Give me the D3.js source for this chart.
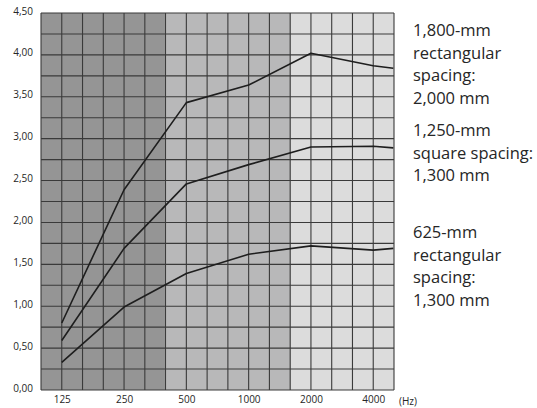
<!DOCTYPE html>
<html>
<head>
<meta charset="utf-8">
<script src="https://cdn.jsdelivr.net/npm/d3@7"></script>
<style>
  body { margin: 0; background: #fff; }
  text { font-family: "Open Sans", "Noto Sans", sans-serif; fill: #262626; }
</style>
</head>
<body>
<div class="chart"></div>
<script>
(function () {
  'use strict';

  var freqs = [125, 250, 500, 1000, 2000, 4000, 5000];
  var tickFreqs = [125, 250, 500, 1000, 2000, 4000];
  var yTicks = [0, 0.5, 1, 1.5, 2, 2.5, 3, 3.5, 4, 4.5];

  var rect1800 = [0.80, 2.39, 3.43, 3.64, 4.02, 3.87, 3.84];
  var square1250 = [0.59, 1.69, 2.46, 2.69, 2.90, 2.91, 2.89];
  var rect625 = [0.33, 0.99, 1.39, 1.62, 1.72, 1.67, 1.69];

  var labels = [
    { lines: ['1,800-mm', 'rectangular', 'spacing:', '2,000 mm'], y: 36 },
    { lines: ['1,250-mm', 'square spacing:', '1,300 mm'], y: 136 },
    { lines: ['625-mm', 'rectangular', 'spacing:', '1,300 mm'], y: 238 }
  ];

  // background bands (Hz edges) and their greys
  var bands = [
    { from: 99.2, to: 400, fill: '#959595' },
    { from: 400, to: 1600, fill: '#b8b8b9' },
    { from: 1600, to: 5040, fill: '#dcdcdc' }
  ];

  var margin = { top: 13, right: 143, bottom: 18, left: 41 };
  var width = 537 - margin.left - margin.right;
  var height = 408 - margin.top - margin.bottom;

  var fMin = 125 / Math.pow(2, 1 / 3);
  var fMax = 4000 * Math.pow(2, 1 / 3);

  var x = d3.scaleLog().base(2).domain([fMin, fMax]).range([0, width]);
  var y = d3.scaleLinear().domain([0, 4.5]).range([height, 0]);

  var comma = d3.formatLocale({ decimal: ',', thousands: '.', grouping: [3], currency: ['', ''] });

  var svg = d3.select('.chart')
      .append('svg')
      .attr('width', 537)
      .attr('height', 408);

  var g = svg.append('g')
      .attr('transform', 'translate(' + margin.left + ',' + margin.top + ')');

  g.selectAll('.band')
     .data(bands)
     .enter()
     .append('rect')
     .attr('x', function(d) { return Math.max(0, x(d.from)); })
     .attr('width', function(d) { return Math.min(width, x(d.to)) - Math.max(0, x(d.from)); })
     .attr('y', 0)
     .attr('height', height)
     .attr('fill', function(d) { return d.fill; });

  // third-octave grid columns, 0.25 rows
  var cols = d3.range(0, 18).map(function(i) { return fMin * Math.pow(2, i / 3); });
  var rows = d3.range(0, 19).map(function(i) { return i * 0.25; });

  g.selectAll('.vgrid')
     .data(cols)
     .enter()
     .append('line')
     .attr('x1', function(d) { return x(d); })
     .attr('x2', function(d) { return x(d); })
     .attr('y1', 0)
     .attr('y2', height)
     .attr('stroke', '#3a3a3a')
     .attr('stroke-width', 1.1);

  g.selectAll('.hgrid')
     .data(rows)
     .enter()
     .append('line')
     .attr('x1', 0)
     .attr('x2', width)
     .attr('y1', function(d) { return y(d); })
     .attr('y2', function(d) { return y(d); })
     .attr('stroke', '#3a3a3a')
     .attr('stroke-width', 1.1);

  var line = d3.line()
      .x(function(d, i) { return x(freqs[i]); })
      .y(function(d) { return y(d); });

  g.selectAll('.curve')
     .data([rect1800, square1250, rect625])
     .enter()
     .append('path')
     .attr('d', line)
     .attr('fill', 'none')
     .attr('stroke', '#1e1e1e')
     .attr('stroke-width', 1.6)
     .attr('stroke-linejoin', 'round');

  var yAxis = g.append('g')
     .call(d3.axisLeft(y).tickValues(yTicks).tickSize(0).tickPadding(8)
       .tickFormat(comma.format('.2f')));
  yAxis.select('.domain').remove();
  yAxis.selectAll('text')
     .attr('font-size', '10px')
     .attr('font-family', '"Open Sans", sans-serif')
     .attr('fill', '#262626')
     .attr('dy', '0.1em');

  var xAxis = g.append('g')
     .attr('transform', 'translate(0,' + height + ')')
     .call(d3.axisBottom(x).tickValues(tickFreqs).tickSize(0).tickPadding(6)
       .tickFormat(d3.format('d')));
  xAxis.select('.domain').remove();
  xAxis.selectAll('text')
     .attr('font-size', '10px')
     .attr('font-family', '"Open Sans", sans-serif')
     .attr('fill', '#262626');

  g.append('text')
     .attr('x', width + 5)
     .attr('y', height + 15)
     .attr('font-size', '10px')
     .text('(Hz)');

  var legend = svg.selectAll('.legend')
     .data(labels)
     .enter()
     .append('text')
     .attr('font-size', '16.5px')
     .attr('x', 413)
     .attr('y', function(d) { return d.y; });

  legend.selectAll('tspan')
     .data(function(d) { return d.lines; })
     .enter()
     .append('tspan')
     .attr('x', 413)
     .attr('dy', function(d, i) { return i === 0 ? 0 : 22.5; })
     .text(function(d) { return d; });
}());
</script>
</body>
</html>
